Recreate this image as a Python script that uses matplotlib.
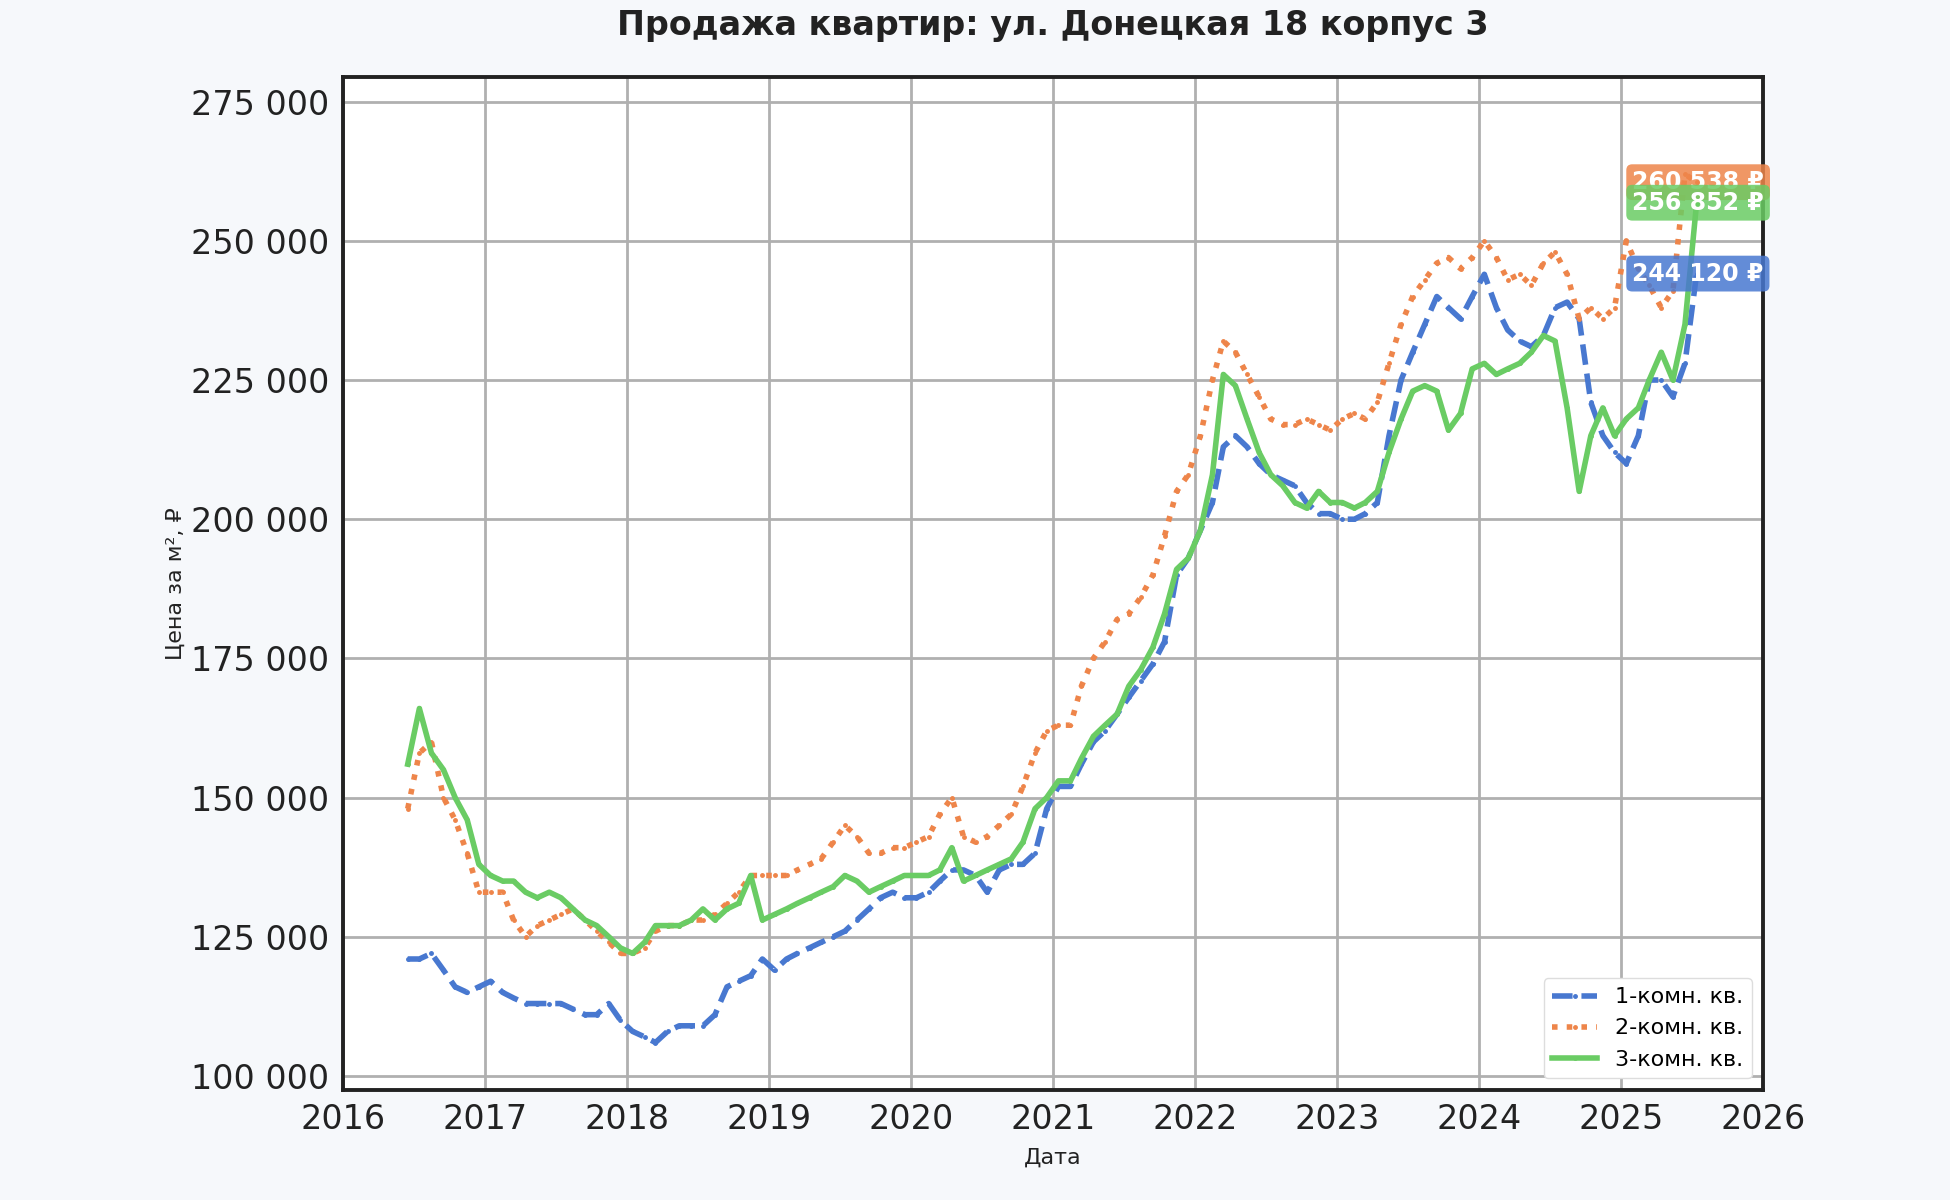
import pandas as pd
import matplotlib.pyplot as plt
from matplotlib.ticker import FuncFormatter

# monthly average price per m2, Jun 2016 .. Jul 2025 (thousands of rubles)
price_1room = [
    121, 121, 122, 119, 116, 115, 116,
    117, 115, 114, 113, 113, 113, 113, 112, 111, 111, 113, 110,
    108, 107, 106, 108, 109, 109, 109, 111, 116, 117, 118, 121,
    119, 121, 122, 123, 124, 125, 126, 128, 130, 132, 133, 132,
    132, 133, 135, 137, 137, 136, 133, 137, 138, 138, 140, 148,
    152, 152, 156, 160, 162, 165, 168, 171, 174, 178, 190, 193,
    198, 203, 213, 215, 213, 210, 208, 207, 206, 203, 201, 201,
    200, 200, 201, 203, 215, 225, 230, 235, 240, 238, 236, 240,
    244, 238, 234, 232, 231, 233, 238, 239, 236, 221, 215, 212,
    210, 215, 225, 225, 222, 228, 244.12,
]
price_2room = [
    148, 158, 160, 150, 146, 140, 133,
    133, 133, 128, 125, 127, 128, 129, 130, 128, 126, 124, 122,
    122, 123, 126, 127, 127, 128, 128, 129, 131, 133, 136, 136,
    136, 136, 137, 138, 139, 142, 145, 143, 140, 140, 141, 141,
    142, 143, 147, 150, 143, 142, 143, 145, 147, 152, 158, 162,
    163, 163, 170, 175, 178, 182, 183, 186, 190, 197, 205, 208,
    215, 225, 232, 230, 226, 222, 218, 217, 217, 218, 217, 216,
    218, 219, 218, 221, 228, 235, 240, 243, 246, 247, 245, 247,
    250, 247, 243, 244, 242, 246, 248, 244, 236, 238, 236, 238,
    250, 245, 242, 238, 241, 262, 260.538,
]
price_3room = [
    156, 166, 158, 155, 150, 146, 138,
    136, 135, 135, 133, 132, 133, 132, 130, 128, 127, 125, 123,
    122, 124, 127, 127, 127, 128, 130, 128, 130, 131, 136, 128,
    129, 130, 131, 132, 133, 134, 136, 135, 133, 134, 135, 136,
    136, 136, 137, 141, 135, 136, 137, 138, 139, 142, 148, 150,
    153, 153, 157, 161, 163, 165, 170, 173, 177, 183, 191, 193,
    198, 208, 226, 224, 218, 212, 208, 206, 203, 202, 205, 203,
    203, 202, 203, 205, 212, 218, 223, 224, 223, 216, 219, 227,
    228, 226, 227, 228, 230, 233, 232, 220, 205, 215, 220, 215,
    218, 220, 225, 230, 225, 235, 256.852,
]
labels = ['1-комн. кв.', '2-комн. кв.', '3-комн. кв.']
colors = ['#4878d0', '#ee854a', '#6acc64']
styles = ['--', ':', '-']

dates = pd.date_range('2016-06-01', periods=len(price_1room), freq='MS') + pd.Timedelta(days=14)
years = dates.year + (dates.dayofyear - 1) / 365.25

fig = plt.figure(figsize=(19.5, 12), dpi=100, facecolor='#f6f8fb')
ax = fig.add_axes([0.176, 0.092, 0.728, 0.844])
ax.set_facecolor('white')

series = [price_1room, price_2room, price_3room]
for vals, lab, col, ls in zip(series, labels, colors, styles):
    y = [v * 1000 for v in vals]
    ax.plot(years, y, linestyle=ls, color=col, linewidth=4, marker='.', markersize=5, label=lab)

for vals, col in zip(series, colors):
    last = vals[-1] * 1000
    ax.text(2025.08, last, f'{last:,.0f} ₽'.replace(',', ' '), color='white', fontsize=17,
            fontweight='bold', va='center', ha='left',
            bbox=dict(boxstyle='round,pad=0.25', facecolor=col, edgecolor='none', alpha=0.85))

ax.set_xlim(2016, 2026)
ax.set_ylim(97540, 279470)
ax.set_xticks(range(2016, 2027))
ax.set_yticks(range(100000, 275001, 25000))
ax.yaxis.set_major_formatter(FuncFormatter(lambda v, p: f'{v:,.0f}'.replace(',', ' ')))
ax.tick_params(labelsize=24, length=0, pad=10, colors='#222222')
ax.grid(True, color='#b0b0b0', linewidth=2)
for s in ax.spines.values():
    s.set_linewidth(2.8)
    s.set_color('#222222')

ax.set_title('Продажа квартир: ул. Донецкая 18 корпус 3', fontsize=24, fontweight='bold', pad=30, color='#222222')
ax.set_xlabel('Дата', fontsize=16, labelpad=8, color='#222222')
ax.set_ylabel('Цена за м², ₽', fontsize=16, color='#222222')

ax.legend(loc='lower right', fontsize=16, frameon=True, framealpha=1, edgecolor='#dddddd')

plt.savefig('out.png', facecolor=fig.get_facecolor())
